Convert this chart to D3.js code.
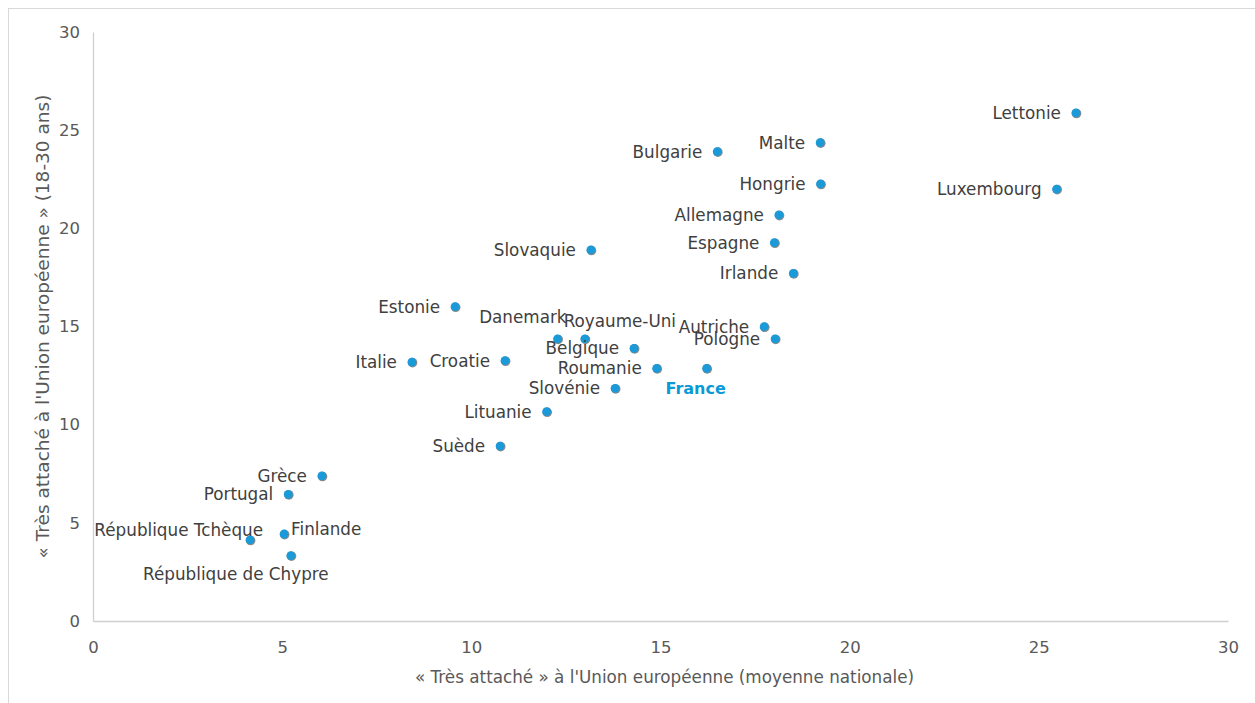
<!DOCTYPE html>
<html><head><meta charset="utf-8">
<script src="https://cdn.jsdelivr.net/npm/d3@7"></script>
<style>
html,body{margin:0;padding:0;background:#fff;}
svg{display:block;font-family:"DejaVu Sans",Verdana,sans-serif;}
</style></head>
<body><svg id="c" width="1255" height="703"></svg>
<script>
// Data
const countries = ["Lettonie","Luxembourg","Malte","Bulgarie","Hongrie","Allemagne","Espagne","Irlande","Slovaquie","Estonie","Danemark","Royaume-Uni","Belgique","Autriche","Pologne","Italie","Croatie","Roumanie","France","Slovénie","Lituanie","Suède","Grèce","Portugal","Finlande","République Tchèque","République de Chypre"];
const nationalAvg = [25.98,25.47,19.22,16.50,19.23,18.13,18.01,18.51,13.16,9.57,12.28,13.00,14.30,17.74,18.03,8.43,10.89,14.90,16.22,13.80,11.99,10.76,6.05,5.16,5.05,4.15,5.23];
const youth18to30 = [25.88,22.00,24.37,23.91,22.26,20.68,19.27,17.71,18.90,16.01,14.37,14.37,13.89,14.99,14.37,13.19,13.26,12.87,12.87,11.85,10.66,8.91,7.39,6.45,4.43,4.13,3.33];
const labelPlacement = ["left","left","left","left","left","left","left","left","left","left","aboveLeft","above","left","left","left","left","left","left","below","left","left","left","left","left","right","leftHigh","belowWide"];
const xTicks = [0,5,10,15,20,25,30];
const yTicks = [0,5,10,15,20,25,30];
const xTitle = "« Très attaché » à l'Union européenne (moyenne nationale)";
const yTitle = "« Très attaché à l'Union européenne » (18-30 ans)";
const highlight = "France";

const svg = d3.select("#c");
const m = {left:93, right:1228, top:32, bottom:621};

// outer frame
svg.append("rect").attr("x",8.5).attr("y",8.5).attr("width",1270).attr("height",720)
  .attr("fill","none").attr("stroke","#d9d9d9").attr("stroke-width",1);

const x = d3.scaleLinear().domain([0,30]).range([m.left,m.right]);
const y = d3.scaleLinear().domain([0,30]).range([m.bottom,m.top]);

const xAxis = svg.append("g").attr("transform",`translate(0,${m.bottom})`)
  .call(d3.axisBottom(x).tickValues(xTicks).tickSize(0).tickPadding(20));
const yAxis = svg.append("g").attr("transform",`translate(${m.left},0)`)
  .call(d3.axisLeft(y).tickValues(yTicks).tickSize(0).tickPadding(13));
[xAxis,yAxis].forEach(g=>{
  g.select(".domain").attr("stroke","#d0d0d0").attr("stroke-width",1.3);
  g.selectAll("text").attr("fill","#595959").style("font-size","16.5px").style("font-family","DejaVu Sans, sans-serif");
});

svg.append("text").attr("x",(m.left+m.right)/2+4).attr("y",683)
  .attr("text-anchor","middle").attr("fill","#595959").style("font-size","16.8px")
  .text(xTitle);
svg.append("text").attr("transform",`translate(49,${(m.top+m.bottom)/2}) rotate(-90)`)
  .attr("text-anchor","middle").attr("fill","#595959").style("font-size","18.5px").text(yTitle);

const data = countries.map((c,i)=>({name:c,x:nationalAvg[i],y:youth18to30[i],pos:labelPlacement[i]}));

const place = {
  left:{dx:-15,dy:6,anchor:"end"},
  right:{dx:7,dy:1,anchor:"start"},
  above:{dx:35,dy:-12,anchor:"middle"},
  aboveLeft:{dx:9,dy:-16,anchor:"end"},
  below:{dx:-11,dy:26,anchor:"middle"},
  leftHigh:{dx:13,dy:-4,anchor:"end"},
  belowWide:{dx:-55,dy:24,anchor:"middle"}
};

const dots = svg.append("g");
dots.selectAll("circle").data(data).join("circle")
  .attr("cx",d=>x(d.x)+0.6).attr("cy",d=>y(d.y)+0.6).attr("r",4.8).attr("fill","#8a8a8a");
dots.selectAll("circle.m").data(data).join("circle").attr("class","m")
  .attr("cx",d=>x(d.x)).attr("cy",d=>y(d.y)).attr("r",4.4).attr("fill","#1a9ad8");

svg.append("g").selectAll("text").data(data).join("text")
  .attr("x",d=>x(d.x)+place[d.pos].dx).attr("y",d=>y(d.y)+place[d.pos].dy)
  .attr("text-anchor",d=>place[d.pos].anchor)
  .attr("fill",d=>d.name===highlight?"#0b9ad8":"#404040")
  .style("font-weight",d=>d.name===highlight?"bold":"normal")
  .style("font-size",d=>d.name===highlight?"16px":"16.8px")
  .text(d=>d.name);
</script></body></html>
